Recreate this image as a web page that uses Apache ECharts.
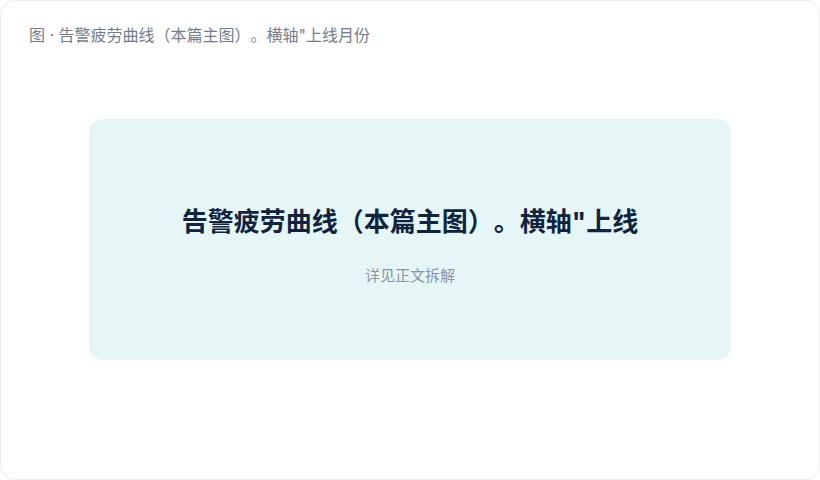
<!DOCTYPE html>
<html>
<head>
<meta charset="utf-8">
<script src="https://cdn.jsdelivr.net/npm/echarts@6/dist/echarts.min.js"></script>
<style>
  html, body { margin: 0; padding: 0; background: #ffffff; }
  #main { width: 820px; height: 480px; }
  /* 不压缩相邻的全角标点 */
  #main text { text-spacing-trim: space-all; font-kerning: none; }
</style>
</head>
<body>
<div id="main"></div>
<script>
// 图中文字
var captionText = ['图 · 告警疲劳曲线（本篇主图）。横轴"上线月份'];
var placeholderTitle = ['告警疲劳曲线（本篇主图）。横轴"上线'];
var placeholderNote = ['详见正文拆解'];

var fontFamily = 'Inter, "Noto Sans CJK SC", sans-serif';

var option = {
    backgroundColor: '#ffffff',
    graphic: [
        {
            type: 'rect',
            shape: { x: 0.5, y: 0.5, width: 819, height: 479, r: 14 },
            style: { fill: '#ffffff', stroke: '#e8ebf0', lineWidth: 1 }
        },
        {
            type: 'text',
            x: 29,
            y: 35,
            style: {
                text: captionText[0],
                fill: '#737d8c',
                font: '16px ' + fontFamily,
                verticalAlign: 'middle'
            }
        },
        {
            type: 'rect',
            shape: { x: 89, y: 119, width: 642, height: 241, r: 14 },
            style: { fill: '#e6f6f7' }
        },
        {
            type: 'text',
            x: 410,
            y: 221,
            style: {
                text: placeholderTitle[0],
                fill: '#10243f',
                font: 'bold 26px ' + fontFamily,
                align: 'center',
                verticalAlign: 'middle'
            }
        },
        {
            type: 'text',
            x: 410,
            y: 275,
            style: {
                text: placeholderNote[0],
                fill: '#8a94a3',
                font: '15px ' + fontFamily,
                align: 'center',
                verticalAlign: 'middle'
            }
        }
    ]
};

var myChart = echarts.init(document.getElementById('main'), null, { renderer: 'svg' });
myChart.setOption(option);
</script>
</body>
</html>
